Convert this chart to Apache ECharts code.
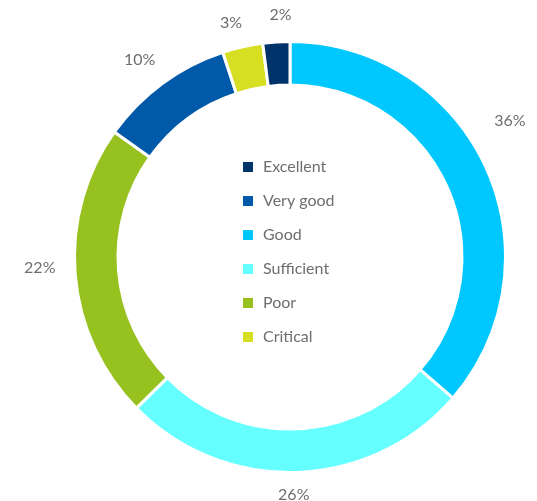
<!DOCTYPE html>
<html>
<head>
<meta charset="utf-8">
<style>
  html, body { margin: 0; padding: 0; background: #ffffff; }
  #chart { width: 537px; height: 501px; }
</style>
<script src="https://cdn.jsdelivr.net/npm/echarts@6/dist/echarts.min.js"></script>
</head>
<body>
<div id="chart"></div>
<script>
// Ring order (clockwise from 12 o'clock)
const categories = ['Good', 'Sufficient', 'Poor', 'Very good', 'Critical', 'Excellent'];
const shares = [36, 26, 22, 10, 3, 2];
const colors = ['#00c8ff', '#66ffff', '#97c11f', '#005aa9', '#d7df23', '#00336a'];
// Legend order
const legendOrder = ['Excellent', 'Very good', 'Good', 'Sufficient', 'Poor', 'Critical'];
// Small nudges for the percentage labels
const labelNudge = {
  'Good': [-3, -34],
  'Sufficient': [-4, -7],
  'Poor': [-6, -9],
  'Very good': [-5, 0],
  'Critical': [-5, 5],
  'Excellent': [6, 2]
};

const FONT = 'Lato, "Open Sans", sans-serif';
const center = [290, 257];

const chart = echarts.init(document.getElementById('chart'), null, { renderer: 'canvas' });

const ringData = categories.map((name, i) => ({
  name,
  value: shares[i],
  itemStyle: { color: colors[i] }
}));

const labelData = categories.map((name, i) => ({
  name,
  value: shares[i],
  label: { offset: labelNudge[name] || [0, 0] }
}));

chart.setOption({
  animation: false,
  legend: {
    orient: 'vertical',
    left: 241,
    top: 157,
    padding: 0,
    itemWidth: 12,
    itemHeight: 12,
    itemGap: 14,
    icon: 'rect',
    data: legendOrder,
    selectedMode: false,
    textStyle: {
      color: '#6e6e6e',
      fontFamily: FONT,
      fontSize: 16,
      lineHeight: 20,
      padding: [0, 0, 0, 4]
    }
  },
  series: [
    {
      type: 'pie',
      center,
      radius: [172, 215.5],
      startAngle: 90,
      clockwise: true,
      avoidLabelOverlap: false,
      label: { show: false },
      labelLine: { show: false },
      itemStyle: { borderColor: '#ffffff', borderWidth: 3 },
      emphasis: { disabled: true },
      data: ringData
    },
    {
      // transparent ring used only to place the percentage labels
      type: 'pie',
      center,
      radius: [216, 268],
      startAngle: 90,
      clockwise: true,
      silent: true,
      legendHoverLink: false,
      avoidLabelOverlap: false,
      itemStyle: { color: 'rgba(0,0,0,0)' },
      label: {
        show: true,
        position: 'inside',
        formatter: '{c}%',
        color: '#6e6e6e',
        fontFamily: FONT,
        fontSize: 16
      },
      labelLine: { show: false },
      emphasis: { disabled: true },
      data: labelData
    }
  ]
});
</script>
</body>
</html>
